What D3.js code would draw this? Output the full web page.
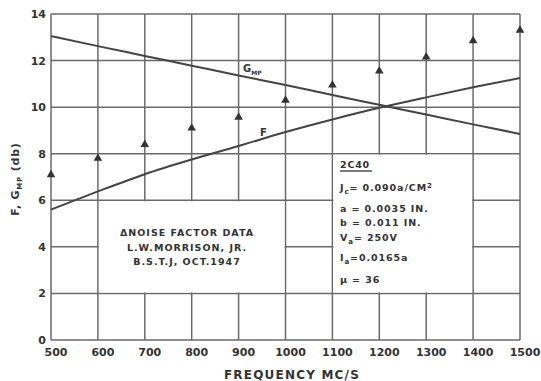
<!DOCTYPE html>
<html><head><meta charset="utf-8">
<script src="https://cdn.jsdelivr.net/npm/d3@7"></script>
<style>
body{margin:0;background:#fff;}
text{font-family:"DejaVu Sans",sans-serif;font-weight:bold;fill:#333;}
</style></head>
<body><svg id="c" width="541" height="381"></svg>
<script>
const freq = [500,600,700,800,900,1000,1100,1200,1300,1400,1500];
const gmpValues = [13.05,12.62,12.2,11.78,11.36,10.95,10.52,10.1,9.68,9.26,8.85];
const fValues = [5.6,6.38,7.12,7.75,8.33,8.93,9.47,9.97,10.42,10.85,11.25];
const noiseData = [7.1,7.8,8.4,9.1,9.57,10.3,10.95,11.55,12.15,12.85,13.3];
const xTicks = [500,600,700,800,900,1000,1100,1200,1300,1400,1500];
const yTicks = [0,2,4,6,8,10,12,14];
const noteLines = ["\u0394NOISE FACTOR DATA","L.W.MORRISON, JR.","B.S.T.J, OCT.1947"];

const svg = d3.select("#c");
const x = d3.scaleLinear().domain([500,1500]).range([51,520]);
const y = d3.scaleLinear().domain([0,14]).range([340,14]);
const grid = "#6a6a6a";

const g = svg.append("g");
g.selectAll(".vx").data(xTicks).join("line")
  .attr("x1",d=>x(d)).attr("x2",d=>x(d)).attr("y1",y(0)).attr("y2",y(14))
  .attr("stroke",grid).attr("stroke-width",1.5);
g.selectAll(".hy").data(yTicks).join("line")
  .attr("x1",x(500)).attr("x2",x(1500)).attr("y1",d=>y(d)).attr("y2",d=>y(d))
  .attr("stroke",grid).attr("stroke-width",1.5);

const boxes = [[600,1000,2,6],[1100,1400,2,8]];
svg.selectAll(".box").data(boxes).join("rect")
  .attr("x",d=>x(d[0])+1).attr("y",d=>y(d[3])+1)
  .attr("width",d=>x(d[1])-x(d[0])-2).attr("height",d=>y(d[2])-y(d[3])-2)
  .attr("fill","#fff");

const line = d3.line().x((d,i)=>x(freq[i])).y(d=>y(d)).curve(d3.curveMonotoneX);
svg.append("path").attr("d",line(gmpValues)).attr("fill","none").attr("stroke","#444").attr("stroke-width",2);
svg.append("path").attr("d",line(fValues)).attr("fill","none").attr("stroke","#444").attr("stroke-width",2);

svg.selectAll(".m").data(noiseData).join("path")
  .attr("d",d3.symbol().type(d3.symbolTriangle).size(32))
  .attr("transform",(d,i)=>`translate(${x(freq[i])},${y(d)})`)
  .attr("fill","#333");

svg.selectAll(".yl").data(yTicks).join("text")
  .attr("x",46).attr("y",d=>y(d)+4).attr("text-anchor","end")
  .attr("font-size",11).text(d=>d);
svg.selectAll(".xl").data(xTicks).join("text")
  .attr("x",d=>x(d)+5).attr("y",356).attr("text-anchor","middle")
  .attr("font-size",11).text(d=>d);
svg.append("text").attr("x",292).attr("y",379).attr("text-anchor","middle")
  .attr("font-size",12).attr("letter-spacing",1.2).text("FREQUENCY MC/S");

const yl = svg.append("text").attr("transform","translate(19,179) rotate(-90)")
  .attr("text-anchor","middle").attr("font-size",11).attr("letter-spacing",0.8);
yl.append("tspan").text("F, G");
yl.append("tspan").attr("font-size",7).attr("dy",3).text("MP");
yl.append("tspan").attr("font-size",11).attr("dy",-3).text(" (db)");

const gl = svg.append("text").attr("x",243).attr("y",72).attr("font-size",10);
gl.append("tspan").text("G");
gl.append("tspan").attr("font-size",6).attr("dy",3).text("MP");
svg.append("text").attr("x",260).attr("y",136).attr("font-size",10).text("F");

svg.selectAll(".note").data(noteLines).join("text")
  .attr("x",187).attr("y",(d,i)=>236+i*14.5).attr("text-anchor","middle")
  .attr("font-size",9.5).attr("letter-spacing",1).text(d=>d);

const px = 340;
svg.append("text").attr("x",px).attr("y",168).attr("font-size",9.5).attr("letter-spacing",0.8).text("2C40");
svg.append("line").attr("x1",px).attr("x2",px+32).attr("y1",171).attr("y2",171).attr("stroke","#333").attr("stroke-width",1.3);
function pline(yy, parts){
  const t = svg.append("text").attr("x",px).attr("y",yy).attr("font-size",9.5).attr("letter-spacing",0.9);
  parts.forEach(pt=>{
    t.append("tspan").text(pt[0]).attr("font-size",pt[2]||9.5).attr("dy",pt[1]||0);
  });
}
pline(191,[["J"],["c",3,7],["= 0.090a/CM",-3],["2",-3,7]]);
pline(212,[["a = 0.0035 IN."]]);
pline(226,[["b = 0.011 IN."]]);
pline(241,[["V"],["a",3,7],["= 250V",-3]]);
pline(261,[["I"],["a",3,7],["=0.0165a",-3]]);
pline(283,[["\u03bc = 36"]]);
</script></body></html>
